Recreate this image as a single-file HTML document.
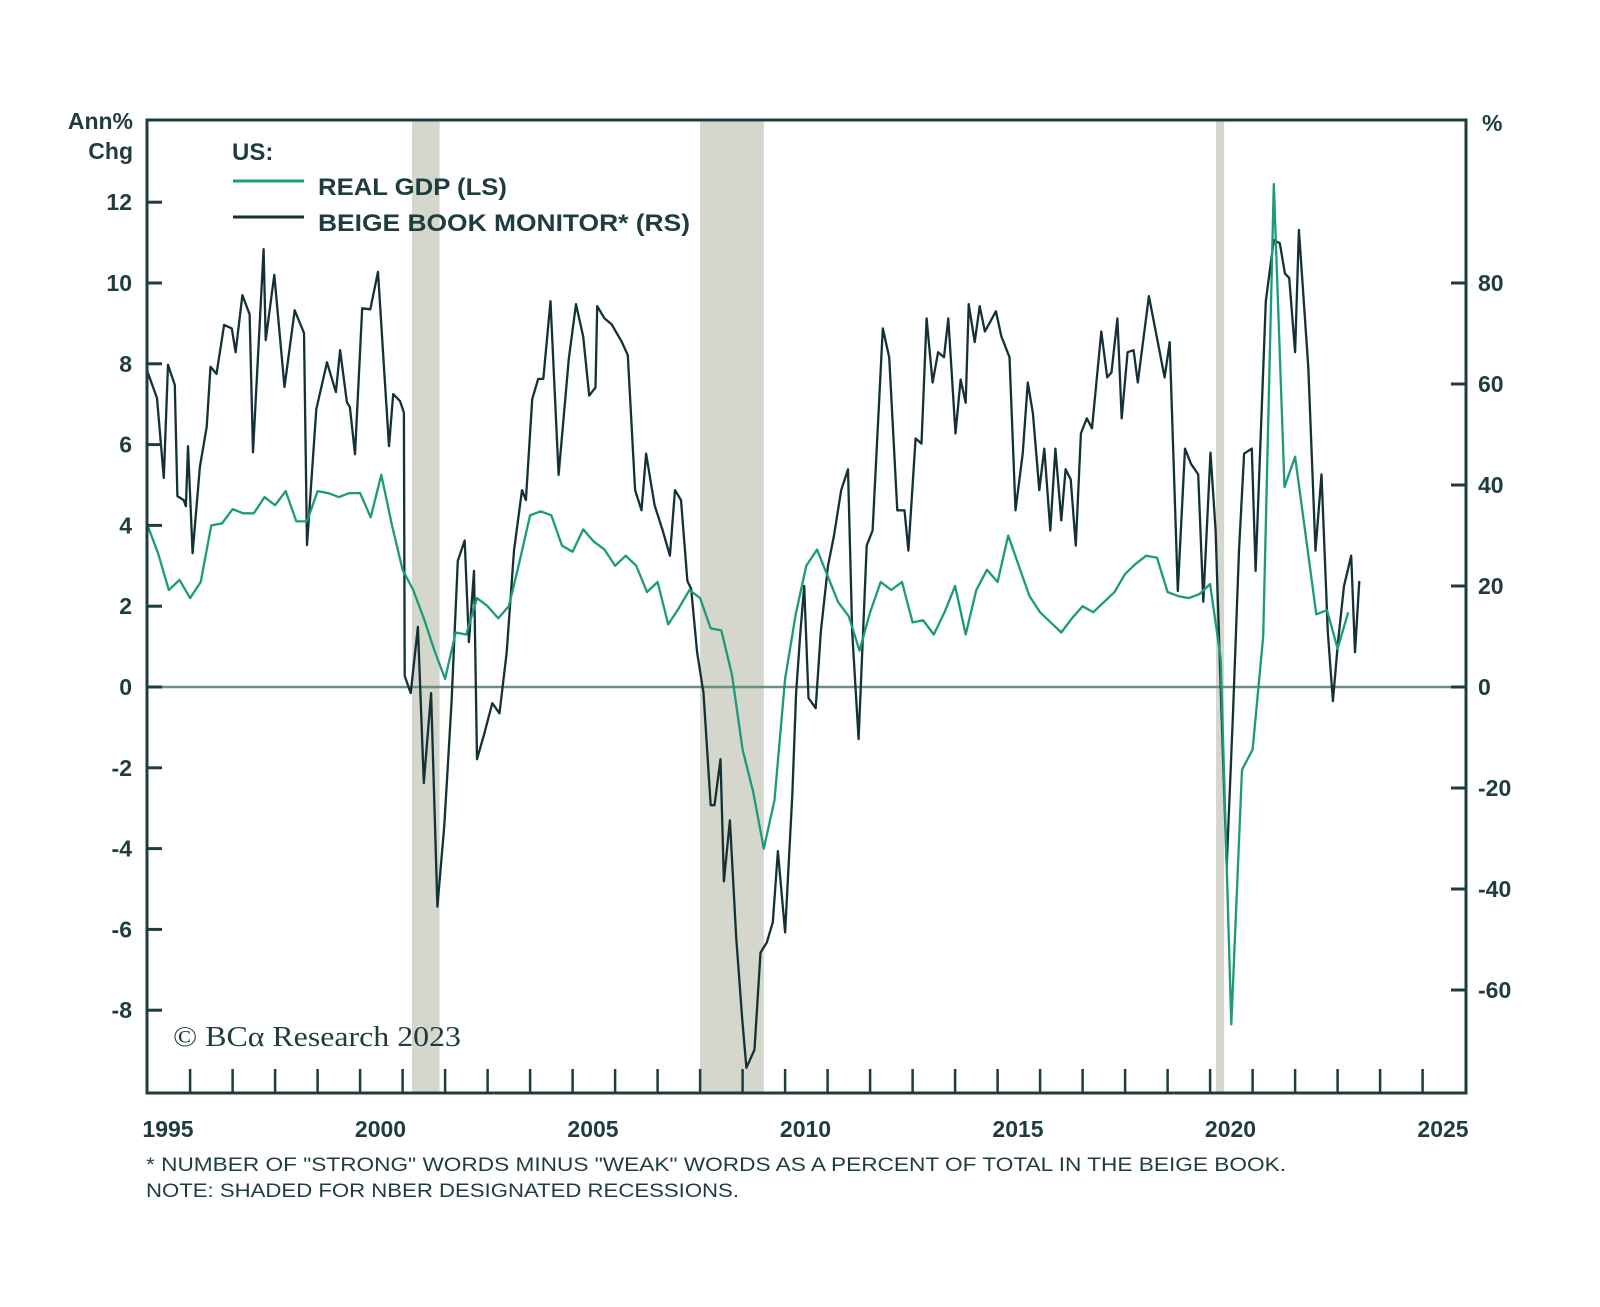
<!DOCTYPE html>
<html><head><meta charset="utf-8"><style>
html,body{margin:0;padding:0;background:#fff;}
svg{display:block;font-family:"Liberation Sans",sans-serif;}
</style></head><body>
<svg id="chart" width="1600" height="1307" viewBox="0 0 1600 1307" xmlns="http://www.w3.org/2000/svg">
<rect width="1600" height="1307" fill="#fff"/>
<g id="shade"></g>
<line x1="147" y1="687" x2="1466" y2="687" stroke="#6f8c86" stroke-width="2.5"/>
<g id="lines"></g>
<rect x="147" y="120" width="1319" height="973" fill="none" stroke="#1e3d3f" stroke-width="3"/>
<g id="axes" fill="#1e3d3f" font-weight="bold" font-size="23"></g>
<text x="133" y="129" text-anchor="end" font-size="23" font-weight="bold" fill="#1e3d3f">Ann%</text>
<text x="133" y="159" text-anchor="end" font-size="23" font-weight="bold" fill="#1e3d3f">Chg</text>
<text x="1482" y="131" font-size="23" font-weight="bold" fill="#1e3d3f">%</text>
<g fill="#1e3d3f" font-size="24" font-weight="bold">
<text x="232" y="160">US:</text>
<line x1="233" y1="181" x2="304" y2="181" stroke="#1a9c7a" stroke-width="3"/>
<text x="318" y="195" textLength="189" lengthAdjust="spacingAndGlyphs">REAL GDP (LS)</text>
<line x1="233" y1="217" x2="304" y2="217" stroke="#143236" stroke-width="3"/>
<text x="318" y="231" textLength="372" lengthAdjust="spacingAndGlyphs">BEIGE BOOK MONITOR* (RS)</text>
</g>
<text x="173" y="1046" font-family="'Liberation Serif',serif" font-size="28" fill="#1e3d3f" textLength="288" lengthAdjust="spacingAndGlyphs">© BCα Research 2023</text>
<text x="146" y="1171" font-size="19" fill="#1e3d3f" textLength="1140" lengthAdjust="spacingAndGlyphs">* NUMBER OF "STRONG" WORDS MINUS "WEAK" WORDS AS A PERCENT OF TOTAL IN THE BEIGE BOOK.</text>
<text x="146" y="1197" font-size="19" fill="#1e3d3f" textLength="593" lengthAdjust="spacingAndGlyphs">NOTE: SHADED FOR NBER DESIGNATED RECESSIONS.</text>
</svg>
<script>
const recessions = [[2000.74, 2001.39], [2007.52, 2009.02], [2019.66, 2019.85]];
const leftTicks = [12, 10, 8, 6, 4, 2, 0, -2, -4, -6, -8];
const rightTicks = [80, 60, 40, 20, 0, -20, -40, -60];
const yearLabels = [1995, 2000, 2005, 2010, 2015, 2020, 2025];
const gdpStart = 1994.52;
const gdpValues = [4.0,3.3,2.4,2.65,2.2,2.6,4.0,4.05,4.4,4.3,4.3,4.7,4.5,4.85,4.1,4.1,4.85,4.8,4.7,4.8,4.8,4.2,5.25,4.0,2.9,2.4,1.7,0.9,0.2,1.35,1.3,2.2,2.0,1.7,2.0,3.1,4.25,4.35,4.25,3.5,3.35,3.9,3.6,3.4,3.0,3.25,3.0,2.35,2.6,1.55,1.95,2.4,2.2,1.45,1.4,0.3,-1.55,-2.6,-4.0,-2.8,0.2,1.8,3.0,3.4,2.75,2.1,1.75,0.9,1.85,2.6,2.4,2.6,1.6,1.65,1.3,1.85,2.5,1.3,2.4,2.9,2.6,3.75,3.0,2.25,1.85,1.6,1.35,1.7,2.0,1.85,2.1,2.35,2.8,3.05,3.25,3.2,2.35,2.25,2.2,2.3,2.55,0.7,-8.35,-2.05,-1.55,1.25,12.45,4.95,5.7,3.75,1.8,1.9,0.95,1.85];
const beigeDates = [1994.51,1994.74,1994.9,1995.0,1995.16,1995.22,1995.37,1995.42,1995.47,1995.58,1995.75,1995.91,1996.0,1996.14,1996.32,1996.5,1996.59,1996.75,1996.92,1997.0,1997.25,1997.3,1997.5,1997.74,1997.98,1998.2,1998.27,1998.49,1998.74,1998.95,1999.05,1999.21,1999.28,1999.4,1999.57,1999.76,1999.94,2000.1,2000.2,2000.3,2000.46,2000.55,2000.57,2000.71,2000.88,2001.02,2001.19,2001.34,2001.5,2001.67,2001.82,2001.98,2002.08,2002.2,2002.27,2002.44,2002.63,2002.8,2002.97,2003.14,2003.33,2003.42,2003.57,2003.71,2003.83,2004.0,2004.19,2004.43,2004.6,2004.77,2004.91,2005.06,2005.1,2005.27,2005.44,2005.68,2005.82,2005.99,2006.14,2006.25,2006.45,2006.64,2006.81,2006.93,2007.07,2007.22,2007.31,2007.45,2007.6,2007.77,2007.86,2008.0,2008.08,2008.22,2008.37,2008.51,2008.61,2008.8,2008.94,2009.09,2009.23,2009.35,2009.52,2009.69,2009.78,2009.88,2009.97,2010.07,2010.24,2010.36,2010.53,2010.67,2010.84,2011.0,2011.1,2011.25,2011.44,2011.58,2011.82,2011.97,2012.16,2012.33,2012.42,2012.59,2012.73,2012.85,2012.99,2013.12,2013.26,2013.36,2013.53,2013.65,2013.77,2013.84,2013.98,2014.1,2014.22,2014.48,2014.61,2014.8,2014.94,2015.11,2015.23,2015.35,2015.5,2015.62,2015.76,2015.88,2016.02,2016.12,2016.24,2016.36,2016.48,2016.62,2016.74,2016.96,2017.1,2017.2,2017.34,2017.44,2017.58,2017.72,2017.82,2018.08,2018.45,2018.57,2018.76,2018.93,2019.07,2019.24,2019.36,2019.53,2019.65,2019.74,2019.91,2020.06,2020.2,2020.32,2020.5,2020.59,2020.83,2021.02,2021.16,2021.28,2021.38,2021.52,2021.61,2021.83,2022.0,2022.14,2022.29,2022.41,2022.53,2022.67,2022.84,2022.93,2023.03];
const beigeValues = [62.6,57.2,41.4,63.8,59.8,37.8,37,35.8,47.7,26.5,43.6,51.5,63.4,62,71.7,71,66.3,77.6,73.8,46.5,86.7,68.7,81.6,59.4,74.6,70.1,28.1,55.0,64.3,58.4,66.7,56.4,55.4,46.1,75.0,74.8,82.2,61.0,47.7,58.0,56.6,54.3,2.2,-1.2,11.9,-19,-1.2,-43.5,-27.4,-3.2,25,29,8.9,23,-14.3,-9.3,-3.2,-5.2,6.9,27,39,37,57,61,61,76.4,42,65,75.8,69.4,57.7,59.3,75.4,73,71.8,68.3,65.7,39,35,46.2,36,31,26,39,37,21,19.4,6.9,-1.2,-23.4,-23.4,-14.3,-38.5,-26.4,-49.6,-65.7,-75.4,-71.8,-52.6,-50.6,-46.6,-32.5,-48.6,-21.4,-1.2,10.9,20,-2.2,-4.2,10.9,24,30,39,43.1,10.9,-10.3,28,31,71,65.3,35,35,27,49.2,48.2,73,60.3,66.3,65.3,73,50.2,60.9,56.3,75.8,68.3,75.4,70.4,74.4,69.4,65.3,35,46.2,60.3,54.2,39,47.2,31,47.2,33,43.1,41.1,28,50.2,53.2,51.2,70.4,61.3,62.3,73,53.2,66.3,66.7,60.3,77.4,61.3,68.3,19,47.2,44.2,42.1,16.9,46.4,31,6.9,-35.5,-5.2,27,46.2,47.2,23,76.4,88.5,87.9,81.9,81,66.3,90.5,63.3,27,42.1,10.9,-2.8,8.9,20,26,6.9,21];

const NS = 'http://www.w3.org/2000/svg';
function xs(y){ return 168 + (y - 1995) * 42.5; }
function yl(v){ return 687 - v * 40.4; }
function yr(v){ return 687 - v * 5.05; }
function mk(tag, attrs, parent){ const e = document.createElementNS(NS, tag); for (const k in attrs) e.setAttribute(k, attrs[k]); parent.appendChild(e); return e; }

const shade = document.getElementById('shade');
recessions.forEach(r => {
  const el = mk('rect', {x: xs(r[0]), y: 120, width: xs(r[1]) - xs(r[0]), height: 973, fill: '#d5d6cc'}, shade);
  
  
});

const lines = document.getElementById('lines');
const bp = beigeDates.map((d, i) => xs(d).toFixed(1) + ',' + yr(beigeValues[i]).toFixed(1)).join(' ');
const bl = mk('polyline', {points: bp, fill: 'none', stroke: '#143236', 'stroke-width': 2.3, 'stroke-linejoin': 'round'}, lines);


const gp = gdpValues.map((v, i) => xs(gdpStart + i * 0.25).toFixed(1) + ',' + yl(v).toFixed(1)).join(' ');
const gl = mk('polyline', {points: gp, fill: 'none', stroke: '#1a9c7a', 'stroke-width': 2.3, 'stroke-linejoin': 'round'}, lines);



const axes = document.getElementById('axes');
leftTicks.forEach(t => {
  const tk = mk('line', {x1: 147, x2: 162, y1: yl(t), y2: yl(t), stroke: '#1e3d3f', 'stroke-width': 3}, axes);
  
  
  const lb = mk('text', {x: 132, y: yl(t) + 8, 'text-anchor': 'end'}, axes);
  lb.textContent = t;
  
  
});
rightTicks.forEach(t => {
  const tk = mk('line', {x1: 1451, x2: 1466, y1: yr(t), y2: yr(t), stroke: '#1e3d3f', 'stroke-width': 3}, axes);
  
  
  const lb = mk('text', {x: 1478, y: yr(t) + 8}, axes);
  lb.textContent = t;
  
  
});
for (let y = 1995; y <= 2024; y++) {
  const tk = mk('line', {x1: xs(y + 0.52), x2: xs(y + 0.52), y1: 1069, y2: 1093, stroke: '#1e3d3f', 'stroke-width': 2.5}, axes);
  
  
}
yearLabels.forEach(y => {
  const lb = mk('text', {x: xs(y), y: 1137, 'text-anchor': 'middle'}, axes);
  lb.textContent = y;
  
  
});
</script>
</body></html>
